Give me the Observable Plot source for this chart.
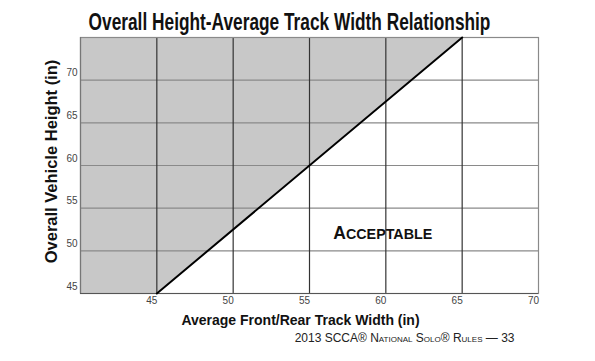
<!DOCTYPE html>
<html>
<head>
<meta charset="utf-8">
<script src="https://cdn.jsdelivr.net/npm/d3@7"></script>
<script src="https://cdn.jsdelivr.net/npm/@observablehq/plot@0.6"></script>
<style>
  html, body { margin: 0; padding: 0; background: #fff; }
  svg { display: block; }
</style>
</head>
<body>
<div id="chart"></div>
<script>
// Limit line: overall height vs. average track width
const trackWidth = [45, 65];
const heightLimit = [45, 75];
const xTicks = [45, 50, 55, 60, 65, 70];
const yTicks = [45, 50, 55, 60, 65, 70];
const xDomain = [40, 70];
const yDomain = [45, 75];
const regionLabel = "Acceptable";
const regionLabelPos = [59.8, 52];
const title = "Overall Height-Average Track Width Relationship";
const xLabel = "Average Front/Rear Track Width (in)";
const yLabel = "Overall Vehicle Height (in)";
const caption = "2013 SCCA\u00AE National Solo\u00AE Rules \u2014 33";

const limit = trackWidth.map((x, i) => ({x, y: heightLimit[i]}));

const chart = Plot.plot({
  width: 595,
  height: 361,
  marginLeft: 80,
  marginRight: 57,
  marginTop: 37,
  marginBottom: 68,
  x: {domain: xDomain},
  y: {domain: yDomain},
  style: {background: "#fff", fontFamily: "Liberation Sans, Arial, sans-serif"},
  marks: [
    // shaded (not acceptable) region
    Plot.areaX(limit, {y: "y", x1: xDomain[0], x2: "x", fill: "#c8c8c8"}),
    Plot.gridY(yTicks.filter(d => d > yDomain[0]), {stroke: "#8a8a8a", strokeOpacity: 1, strokeWidth: 1.2}),
    Plot.gridX(xTicks.filter(d => d < xDomain[1]), {stroke: "#333", strokeOpacity: 1, strokeWidth: 1.2}),
    Plot.frame({stroke: "#8a8a8a", strokeWidth: 1.2}),
    Plot.ruleX([xDomain[0]], {stroke: "#777", strokeWidth: 1.2}),
    Plot.ruleY([yDomain[0]], {stroke: "#555", strokeWidth: 1.2}),
    Plot.line(limit, {x: "x", y: "y", stroke: "#000", strokeWidth: 2}),
    Plot.axisX(xTicks, {tickSize: 0, tickPadding: 3, dx: -5, fontSize: 10, fill: "#444", label: null}),
    Plot.axisY(yTicks, {tickSize: 0, tickPadding: 3, dy: -7, fontSize: 10, fill: "#444", label: null}),
    Plot.text([regionLabel], {
      x: () => regionLabelPos[0], y: () => regionLabelPos[1], text: d => d,
      fontWeight: "bold", fontSize: 17.5, fill: "#111",
      textAnchor: "middle", className: "region-label"
    }),
    Plot.text([title], {
      frameAnchor: "top", text: d => d, dx: -20, dy: -8, lineAnchor: "bottom",
      textAnchor: "middle", fontSize: 23, fontWeight: "bold", fill: "#111",
      className: "chart-title"
    }),
    Plot.text([yLabel], {
      frameAnchor: "left", text: d => d, rotate: -90, dx: -29, dy: -4,
      textAnchor: "middle", lineAnchor: "middle", fontSize: 16.5, fontWeight: "bold", fill: "#111"
    }),
    Plot.text([xLabel], {
      frameAnchor: "bottom", text: d => d, dx: -9, dy: 27,
      textAnchor: "middle", lineAnchor: "middle", fontSize: 14, fontWeight: "bold", fill: "#111"
    }),
    Plot.text([caption], {
      frameAnchor: "bottom-right", text: d => d, dx: -24, dy: 45,
      textAnchor: "end", lineAnchor: "middle", fontSize: 12, fontVariant: "small-caps", fill: "#222"
    })
  ]
});
document.getElementById("chart").appendChild(chart);

// Narrow (condensed) title like the original: squeeze horizontally about its centre
d3.select(chart).selectAll(".chart-title text").each(function() {
  const w = this.getComputedTextLength();
  const k = 402 / w;
  const x = +this.getAttribute("x") || 0;
  const prev = this.getAttribute("transform") || "";
  const m = /translate\(([-\d.]+),\s*([-\d.]+)\)/.exec(prev);
  const cx = m ? +m[1] + x : x;
  this.setAttribute("transform",
    `translate(${cx},0) scale(${k},1) translate(${-cx},0) ${prev}`);
});

// Small caps with the original's proportions
d3.select(chart).selectAll(".region-label text").each(function() {
  const t = d3.select(this);
  const s = t.text();
  t.text(null);
  t.append("tspan").text(s[0].toUpperCase());
  t.append("tspan").attr("font-size", 14.3).text(s.slice(1).toUpperCase());
});
</script>
</body>
</html>
